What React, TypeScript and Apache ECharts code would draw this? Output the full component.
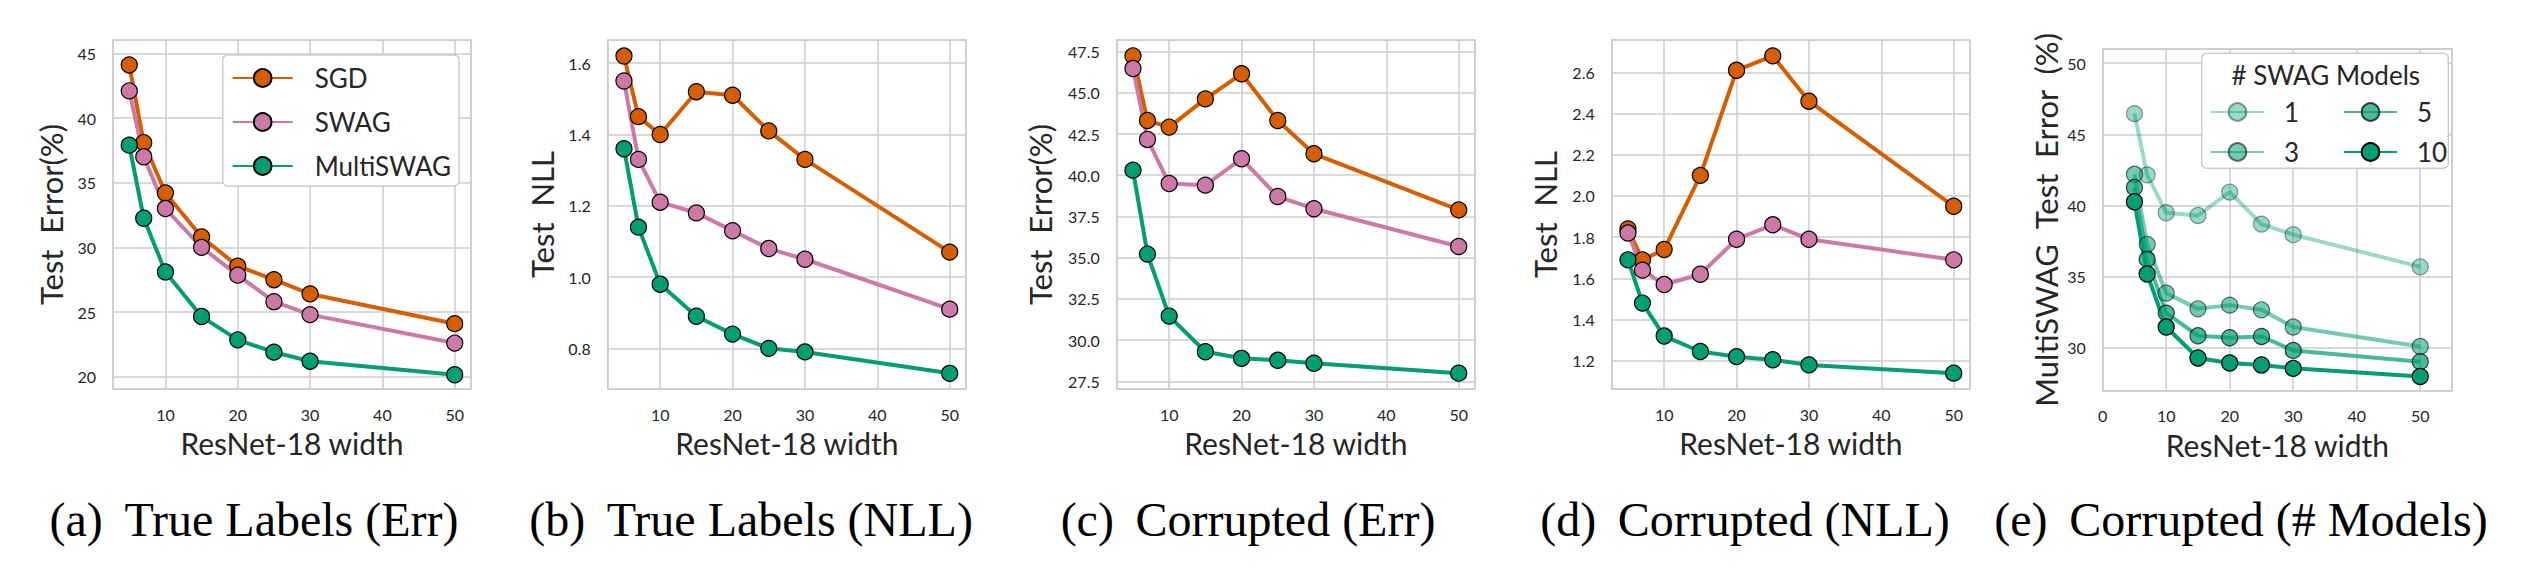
import React, { useEffect, useRef } from "react";
import * as echarts from "echarts";

// ResNet-18 widths evaluated in every panel
const widths = [5, 7, 10, 15, 20, 25, 30, 50];

// (a) True labels, test error (%)
const trueErrSGD = [44.1, 38.1, 34.2, 30.8, 28.55, 27.5, 26.4, 24.1];
const trueErrSWAG = [42.1, 37.0, 33.0, 30.0, 27.85, 25.8, 24.8, 22.6];
const trueErrMulti = [37.9, 32.25, 28.1, 24.65, 22.85, 21.9, 21.2, 20.15];

// (b) True labels, test NLL
const trueNllSGD = [1.62, 1.45, 1.4, 1.52, 1.51, 1.41, 1.33, 1.07];
const trueNllSWAG = [1.55, 1.33, 1.21, 1.18, 1.13, 1.08, 1.05, 0.91];
const trueNllMulti = [1.36, 1.14, 0.98, 0.89, 0.84, 0.8, 0.79, 0.73];

// (c) Corrupted labels, test error (%)
const corrErrSGD = [47.24, 43.32, 42.92, 44.63, 46.15, 43.32, 41.3, 37.9];
const corrErrSWAG = [46.47, 42.17, 39.5, 39.4, 41.0, 38.71, 37.97, 35.68];
const corrErrMulti = [40.31, 35.22, 31.46, 29.3, 28.9, 28.78, 28.6, 28.0];

// (d) Corrupted labels, test NLL
const corrNllSGD = [1.84, 1.69, 1.74, 2.1, 2.61, 2.68, 2.46, 1.95];
const corrNllSWAG = [1.82, 1.64, 1.57, 1.62, 1.79, 1.86, 1.79, 1.69];
const corrNllMulti = [1.69, 1.48, 1.32, 1.245, 1.22, 1.205, 1.18, 1.14];

// (e) Corrupted labels, MultiSWAG error by number of SWAG models
const modelCounts = ["1", "3", "5", "10"];
const models1 = [46.46, 42.16, 39.5, 39.31, 40.95, 38.7, 37.96, 35.7];
const models3 = [42.2, 37.28, 33.85, 32.75, 33.01, 32.68, 31.47, 30.1];
const models5 = [41.27, 36.23, 32.45, 30.86, 30.72, 30.81, 29.83, 29.04];
const models10 = [40.27, 35.2, 31.47, 29.3, 28.95, 28.81, 28.57, 28.0];

const methodNames = ["SGD", "SWAG", "MultiSWAG"];
const captions = [
  "(a) \u2009True Labels (Err)",
  "(b) \u2009True Labels (NLL)",
  "(c) \u2009Corrupted (Err)",
  "(d) \u2009Corrupted (NLL)",
  "(e) \u2009Corrupted (# Models)",
];

const COLORS: Record<string, string> = {
  SGD: "#d55e00",
  SWAG: "#cc79a7",
  MultiSWAG: "#029e73",
};
const GREEN = "#029e73";
const MODEL_ALPHA = [0.4, 0.55, 0.72, 1];

const TEXT = "#262626";
const GRID_LINE = "#cccccc";
const SANS = "Lato, 'Open Sans', sans-serif";
const SERIF = "'Liberation Serif', 'Times New Roman', serif";
const WIDE = "\u00a0\u00a0";

type Panel = {
  grid: { left: number; top: number; width: number; height: number };
  x: [number, number];
  y: [number, number];
  yStep: number;
  yDigits: number;
  yName: string;
  yGap: number;
  showXMin: boolean;
  captionX: number;
};

const panels: Panel[] = [
  { grid: { left: 113, top: 40, width: 358, height: 349 }, x: [2.75, 52.25], y: [19.05, 46.03], yStep: 5, yDigits: 0, yName: `Test${WIDE}Error(%)`, yGap: 47, showXMin: false, captionX: 254 },
  { grid: { left: 607.7, top: 40, width: 358.3, height: 349 }, x: [2.75, 52.25], y: [0.686, 1.665], yStep: 0.2, yDigits: 1, yName: `Test${WIDE}NLL`, yGap: 50, showXMin: false, captionX: 751 },
  { grid: { left: 1116.7, top: 40, width: 358.3, height: 349 }, x: [2.75, 52.25], y: [27.04, 48.2], yStep: 2.5, yDigits: 1, yName: `Test${WIDE}Error(%)`, yGap: 61, showXMin: false, captionX: 1248 },
  { grid: { left: 1611.7, top: 40, width: 358.3, height: 349 }, x: [2.75, 52.25], y: [1.063, 2.757], yStep: 0.2, yDigits: 1, yName: `Test${WIDE}NLL`, yGap: 51, showXMin: false, captionX: 1745 },
  { grid: { left: 2102.7, top: 49, width: 349.3, height: 341.7 }, x: [0, 55], y: [27, 51], yStep: 5, yDigits: 0, yName: `MultiSWAG${WIDE}Test${WIDE}Error${WIDE}(%)`, yGap: 41, showXMin: true, captionX: 2241 },
];

const panelSeries: [string, number[]][][] = [
  [["SGD", trueErrSGD], ["SWAG", trueErrSWAG], ["MultiSWAG", trueErrMulti]],
  [["SGD", trueNllSGD], ["SWAG", trueNllSWAG], ["MultiSWAG", trueNllMulti]],
  [["SGD", corrErrSGD], ["SWAG", corrErrSWAG], ["MultiSWAG", corrErrMulti]],
  [["SGD", corrNllSGD], ["SWAG", corrNllSWAG], ["MultiSWAG", corrNllMulti]],
];
const modelSeries = [models1, models3, models5, models10];

function lineSeries(name: string, values: number[], color: string, idx: number, opacity = 1) {
  return {
    type: "line",
    name,
    xAxisIndex: idx,
    yAxisIndex: idx,
    data: widths.map((w, i) => [w, values[i]]),
    symbol: "circle",
    symbolSize: 16,
    showAllSymbol: true,
    lineStyle: { color, width: 4, opacity },
    itemStyle: { color, borderColor: "#000", borderWidth: 1.2, opacity },
    emphasis: { disabled: true },
  };
}

function buildOption() {
  const grid = panels.map((p) => ({
    ...p.grid,
    show: true,
    borderColor: GRID_LINE,
    borderWidth: 1.5,
    backgroundColor: "#fff",
    containLabel: false,
  }));

  const xAxis = panels.map((p, i) => ({
    type: "value",
    gridIndex: i,
    min: p.x[0],
    max: p.x[1],
    minInterval: 10,
    maxInterval: 10,
    name: "ResNet-18 width",
    nameLocation: "middle",
    nameGap: 39,
    nameTextStyle: { fontFamily: SANS, fontSize: 30, color: TEXT },
    axisLine: { show: false },
    axisTick: { show: false },
    splitLine: { show: true, lineStyle: { color: GRID_LINE, width: 1.5 } },
    axisLabel: {
      fontFamily: SANS,
      fontSize: 16,
      color: TEXT,
      margin: 17,
      showMinLabel: p.showXMin,
      showMaxLabel: false,
    },
  }));

  const yAxis = panels.map((p, i) => ({
    type: "value",
    gridIndex: i,
    min: p.y[0],
    max: p.y[1],
    minInterval: p.yStep,
    maxInterval: p.yStep,
    name: p.yName,
    nameLocation: "middle",
    nameGap: p.yGap,
    nameTextStyle: { fontFamily: SANS, fontSize: 31, color: TEXT },
    axisLine: { show: false },
    axisTick: { show: false },
    splitLine: { show: true, lineStyle: { color: GRID_LINE, width: 1.5 } },
    axisLabel: {
      fontFamily: SANS,
      fontSize: 16,
      color: TEXT,
      margin: 17,
      showMinLabel: false,
      showMaxLabel: false,
      formatter: (v: number) => v.toFixed(p.yDigits),
    },
  }));

  const series: any[] = [];
  panelSeries.forEach((list, idx) => {
    list.forEach(([name, values]) => series.push(lineSeries(name, values, COLORS[name], idx)));
  });
  modelCounts.forEach((name, k) => {
    series.push(lineSeries(name, modelSeries[k], GREEN, 4, MODEL_ALPHA[k]));
  });

  const legendText = { fontFamily: SANS, fontSize: 26, color: TEXT, padding: [0, 0, 0, 17] };

  const legend = [
    {
      data: methodNames,
      orient: "vertical",
      left: 222.7,
      top: 55,
      padding: [10, 8, 7, 9],
      itemGap: 18,
      itemWidth: 60,
      itemHeight: 22,
      backgroundColor: "#fff",
      borderColor: GRID_LINE,
      borderWidth: 1.5,
      borderRadius: 5,
      selectedMode: false,
      textStyle: legendText,
    },
    {
      data: ["1", "3"],
      orient: "vertical",
      left: 2210,
      top: 99,
      padding: 0,
      itemGap: 14,
      itemWidth: 53,
      itemHeight: 22,
      selectedMode: false,
      textStyle: { ...legendText, padding: [0, 0, 0, 15] },
    },
    {
      data: ["5", "10"],
      orient: "vertical",
      left: 2343,
      top: 99,
      padding: 0,
      itemGap: 14,
      itemWidth: 53,
      itemHeight: 22,
      selectedMode: false,
      textStyle: { ...legendText, padding: [0, 0, 0, 15] },
    },
  ];

  const graphic: any[] = [
    // frame behind the "# SWAG Models" legend
    {
      type: "rect",
      shape: { x: 2201.7, y: 53.3, width: 246.6, height: 115, r: 5 },
      style: { fill: "#fff", stroke: GRID_LINE, lineWidth: 1.5 },
      z: 3,
    },
    {
      type: "text",
      x: 2325.8,
      y: 75,
      style: {
        text: "# SWAG Models",
        fontFamily: SANS,
        fontSize: 26,
        fill: TEXT,
        align: "center",
        verticalAlign: "middle",
      },
      z: 10,
    },
    ...panels.map((p, i) => ({
      type: "text",
      x: p.captionX,
      y: 519,
      style: {
        text: captions[i],
        fontFamily: SERIF,
        fontSize: 48,
        fill: "#000",
        align: "center",
        verticalAlign: "middle",
      },
      z: 10,
    })),
  ];

  return {
    animation: false,
    backgroundColor: "#fff",
    grid,
    xAxis,
    yAxis,
    legend,
    graphic,
    series,
  };
}

export default function App() {
  const ref = useRef<HTMLDivElement>(null);

  useEffect(() => {
    if (!ref.current) return;
    const chart = echarts.init(ref.current, null, { renderer: "svg" });
    chart.setOption(buildOption() as any);
    return () => chart.dispose();
  }, []);

  return (
    <div
      ref={ref}
      style={{ position: "fixed", left: 0, top: 0, width: 2526, height: 580, background: "#fff" }}
    />
  );
}
